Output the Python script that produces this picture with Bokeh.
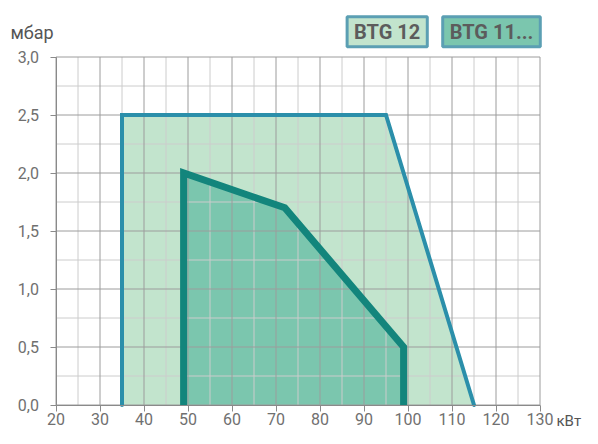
from bokeh.plotting import figure
from bokeh.models import Range1d, FixedTicker, Label
from bokeh.embed import file_html
from bokeh.resources import INLINE

# ---- data ----
btg12_kw = [35, 35, 95, 115]
btg12_mbar = [0.0, 2.5, 2.5, 0.0]
btg11_kw = [49, 49, 72, 99, 99]
btg11_mbar = [0.0, 2.0, 1.7, 0.5, 0.0]

x_ticks = [20, 30, 40, 50, 60, 70, 80, 90, 100, 110, 120, 130]
x_minor = [25, 35, 45, 55, 65, 75, 85, 95, 105, 115, 125]
x_labels = ["20", "30", "40", "50", "60", "70", "80", "90", "100", "110", "120", "130"]
y_ticks = [0.0, 0.5, 1.0, 1.5, 2.0, 2.5, 3.0]
y_minor = [0.25, 0.75, 1.25, 1.75, 2.25, 2.75]
y_labels = ["0,0", "0,5", "1,0", "1,5", "2,0", "2,5", "3,0"]

series_names = ["BTG 12", "BTG 11..."]
x_unit = "кВт"
y_unit = "мбар"

# ---- layout (canvas pixels) ----
W, H = 582, 428
PX_LEFT, PX_RIGHT = 55.5, 539.5      # canvas x of first/last x tick
PY_BOTTOM, PY_TOP = 404.5, 56.5      # canvas y of first/last y tick

xmin, xmax = x_ticks[0], x_ticks[-1]
ymin, ymax = y_ticks[0], y_ticks[-1]
sx = (PX_RIGHT - PX_LEFT) / (xmax - xmin)
sy = (PY_BOTTOM - PY_TOP) / (ymax - ymin)
x_start = xmin - PX_LEFT / sx
x_end = xmax + (W - PX_RIGHT) / sx
y_start = ymin - (H - PY_BOTTOM) / sy
y_end = ymax + PY_TOP / sy

def dx(px):
    return x_start + px / sx

def dy(py):
    return y_start + (H - py) / sy

FONT = "Roboto"
light_fill = "#c2e4cd"
dark_fill = "#7bc6ae"
light_line = "#2b8faa"
dark_line = "#13857c"
box_border = "#5b9fb3"
major_grid = "#9c9c9c"
minor_grid = "#cccccc"

p = figure(width=W, height=H, output_backend="svg", toolbar_location=None,
           x_range=Range1d(x_start, x_end), y_range=Range1d(y_start, y_end),
           min_border_left=0, min_border_right=0, min_border_top=0, min_border_bottom=0)
p.outline_line_color = None
p.background_fill_color = "white"
p.xgrid.visible = False
p.ygrid.visible = False

# fills (below grid)
p.patch(btg12_kw, btg12_mbar, fill_color=light_fill, line_color=None, level="image")
p.patch(btg11_kw, btg11_mbar, fill_color=dark_fill, line_color=None, level="image")

# grid lines, restricted to the data box
p.segment(x0=x_minor, x1=x_minor, y0=[ymin] * len(x_minor), y1=[ymax] * len(x_minor),
          line_color=minor_grid, line_width=1, level="underlay")
p.segment(x0=[xmin] * len(y_minor), x1=[xmax] * len(y_minor), y0=y_minor, y1=y_minor,
          line_color=minor_grid, line_width=1, level="underlay")
p.segment(x0=x_ticks, x1=x_ticks, y0=[ymin] * len(x_ticks), y1=[ymax] * len(x_ticks),
          line_color=major_grid, line_width=1, level="underlay")
p.segment(x0=[xmin] * len(y_ticks), x1=[xmax] * len(y_ticks), y0=y_ticks, y1=y_ticks,
          line_color=major_grid, line_width=1, level="underlay")

# outlines
p.line(btg12_kw, btg12_mbar, line_color=light_line, line_width=4, line_join="miter", line_cap="round")
p.line(btg11_kw, btg11_mbar, line_color=dark_line, line_width=7, line_join="miter", line_cap="butt")

# axes at fixed positions inside the full-canvas frame
p.xaxis.fixed_location = ymin
p.yaxis.fixed_location = xmin
p.xaxis.bounds = (xmin, xmax)
p.yaxis.bounds = (ymin, ymax)
p.xaxis.ticker = FixedTicker(ticks=x_ticks, minor_ticks=x_minor)
p.yaxis.ticker = FixedTicker(ticks=y_ticks, minor_ticks=y_minor)
p.xaxis.major_label_overrides = {t: l for t, l in zip(x_ticks, x_labels)}
p.yaxis.major_label_overrides = {t: l for t, l in zip(y_ticks, y_labels)}
for ax in (p.xaxis, p.yaxis):
    ax.axis_line_color = "#8a8a8a"
    ax.major_tick_line_color = "#8a8a8a"
    ax.major_tick_out = 6
    ax.major_tick_in = 0
    ax.minor_tick_line_color = None
    ax.major_label_text_font = FONT
    ax.major_label_text_color = "#707070"
p.xaxis.major_label_text_font_size = "16px"
p.yaxis.major_label_text_font_size = "16px"
p.xaxis.major_label_standoff = 2
p.yaxis.major_label_standoff = 11

# unit labels
p.add_layout(Label(x=dx(10), y=dy(32), text=y_unit, text_font=FONT, text_font_size="18px",
                   text_color="#555555", text_baseline="alphabetic", text_align="left"))
p.add_layout(Label(x=dx(556), y=dy(420), text=x_unit, text_font=FONT, text_font_size="15px",
                   text_color="#555555", text_baseline="alphabetic", text_align="left"))

# legend boxes
for name, cx, fill in zip(series_names, [386.7, 491.0], [light_fill, dark_fill]):
    p.add_layout(Label(x=dx(cx), y=dy(31.3), text=name,
                       text_font=FONT, text_font_size="20px",
                       text_font_style="bold", text_color="#5c5c5c",
                       text_align="center", text_baseline="middle",
                       background_fill_color=fill, border_line_color=box_border,
                       border_line_width=3,
                       padding=dict(left=7, right=7, top=3, bottom=3)))

open("out.html", "w").write(file_html(p, INLINE))
